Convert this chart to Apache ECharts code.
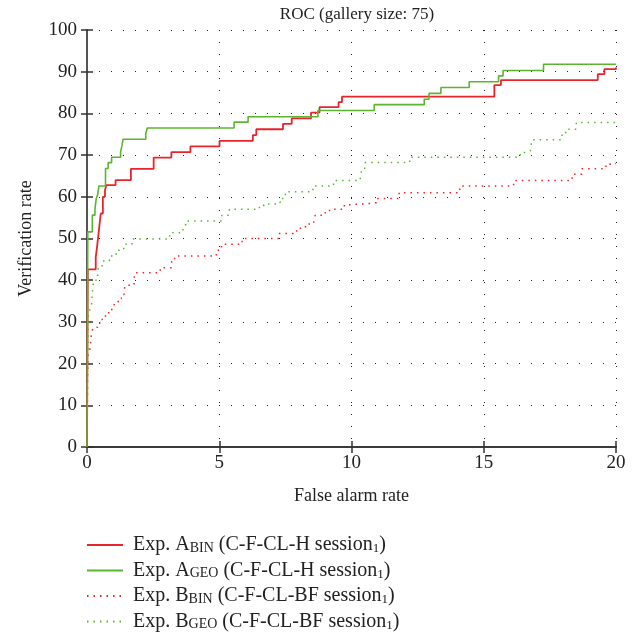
<!DOCTYPE html>
<html><head><meta charset="utf-8">
<script src="https://cdn.jsdelivr.net/npm/echarts@6/dist/echarts.min.js"></script>
<style>html,body{margin:0;padding:0;background:#fff}#c{width:643px;height:638px}</style>
</head><body><div id="c"></div>
<script>
const chartTitle = 'ROC (gallery size: 75)';
const xAxisName = 'False alarm rate';
const yAxisName = 'Verification rate';

// Exp. A_BIN (solid red) step points
const aBinX = [0, 0.03, 0.33, 0.38, 0.45, 0.52, 0.60, 0.68, 0.73, 1.08, 1.66, 2.52, 3.19, 3.91, 5.01, 6.27, 6.40, 7.41, 7.74, 8.47, 8.79, 9.51, 9.64, 15.40, 15.65, 19.31, 19.56, 20];
const aBinY = [0, 42.6, 45.5, 48.0, 52.0, 56.0, 60.0, 61.6, 62.8, 64.0, 66.7, 69.4, 70.7, 72.1, 73.4, 74.8, 76.2, 77.5, 78.8, 80.2, 81.5, 82.7, 84.0, 86.8, 88.0, 89.4, 90.6, 91.0];

// Exp. A_GEO (solid green)
const aGeoX = [0, 0.03, 0.2, 0.3, 0.35, 0.40, 0.45, 0.70, 0.80, 0.93, 1.27, 1.32, 1.36, 2.22, 2.28, 5.56, 6.09, 8.73, 10.86, 12.75, 12.93, 13.38, 14.45, 15.56, 15.73, 17.26, 20];
const aGeoY = [0, 51.6, 55.6, 57.0, 59.6, 60.4, 62.6, 66.8, 68.2, 69.5, 70.8, 72.2, 73.8, 75.1, 76.5, 77.9, 79.2, 80.7, 82.1, 83.4, 84.8, 86.2, 87.6, 89.0, 90.3, 91.8, 91.8];

// Exp. B_BIN (dotted red)
const bBinX = [0, 0.01, 0.02, 0.03, 0.10, 0.13, 0.15, 0.18, 0.24, 0.40, 0.48, 0.58, 0.74, 0.82, 1.00, 1.06, 1.18, 1.30, 1.40, 1.45, 1.78, 1.81, 2.77, 3.20, 3.31, 4.89, 5.00, 5.10, 5.82, 5.90, 7.23, 7.80, 8.07, 8.40, 8.57, 8.63, 9.00, 9.17, 9.73, 9.95, 10.67, 10.94, 11.80, 14.09, 16.13, 18.20, 18.40, 18.71, 19.60, 19.78, 20];
const bBinY = [0, 17.0, 19.2, 21.8, 23.2, 24.6, 26.2, 27.6, 28.7, 29.4, 30.6, 31.4, 31.9, 33.0, 33.6, 34.8, 35.6, 36.6, 37.6, 38.8, 40.2, 41.8, 43.0, 44.4, 45.8, 47.2, 48.0, 48.6, 49.3, 50.0, 51.2, 51.8, 52.8, 53.9, 54.2, 55.6, 56.2, 57.0, 58.1, 58.4, 58.6, 59.6, 61.0, 62.6, 63.9, 64.5, 65.4, 66.7, 67.3, 68.0, 68.0];

// Exp. B_GEO (dotted green)
const bGeoX = [0, 0.05, 0.10, 0.17, 0.20, 0.25, 0.40, 0.44, 0.57, 0.85, 1.10, 1.39, 1.70, 3.12, 3.24, 3.63, 3.68, 3.78, 5.10, 5.38, 6.52, 6.68, 7.30, 7.40, 7.50, 8.54, 9.32, 10.33, 10.40, 10.50, 12.20, 16.38, 16.57, 16.76, 16.82, 17.96, 18.10, 18.50, 20];
const bGeoY = [0, 31.6, 32.8, 34.0, 37.0, 40.0, 41.9, 43.2, 44.6, 45.8, 47.2, 48.6, 49.9, 50.6, 51.4, 52.2, 53.3, 54.2, 55.6, 57.0, 57.8, 58.3, 59.0, 60.2, 61.2, 62.6, 63.9, 65.2, 66.5, 68.2, 69.5, 70.6, 71.0, 71.4, 73.7, 75.2, 76.2, 77.8, 77.9];

const seriesNames = ['ABIN', 'AGEO', 'BBIN', 'BGEO'];
const legendLabels = {
  ABIN: ['Exp. A', 'BIN', ' (C-F-CL-H session', '1', ')'],
  AGEO: ['Exp. A', 'GEO', ' (C-F-CL-H session', '1', ')'],
  BBIN: ['Exp. B', 'BIN', ' (C-F-CL-BF session', '1', ')'],
  BGEO: ['Exp. B', 'GEO', ' (C-F-CL-BF session', '1', ')']
};

const RED = '#e8252b', GREEN = '#5cb531';
const FONT = '"Liberation Serif", "DejaVu Serif", serif';
const zip = (xs, ys) => xs.map((x, i) => [x, ys[i]]);

const chart = echarts.init(document.getElementById('c'), null, {renderer: 'canvas'});
const mk = (name, xs, ys, color, type, width) => ({
  name, type: 'line', step: 'end', data: zip(xs, ys), symbol: 'none',
  lineStyle: {color, width, type, cap: 'butt'}, itemStyle: {color},
  silent: true, animation: false, z: 5
});
chart.setOption({
  animation: false,
  backgroundColor: '#fff',
  title: {text: chartTitle, left: 352, top: 1, textAlign: 'center',
    textStyle: {fontFamily: FONT, fontSize: 17, fontWeight: 'normal', color: '#222'}},
  grid: {left: 87, right: 27, top: 30, bottom: 191, containLabel: false},
  xAxis: [{
    type: 'value', min: 0, max: 20, interval: 5,
    name: xAxisName, nameLocation: 'middle', nameGap: 40,
    nameTextStyle: {fontFamily: FONT, fontSize: 18, color: '#222'},
    axisLine: {show: true, lineStyle: {color: '#555', width: 2}},
    axisTick: {show: true, inside: true, length: 6, lineStyle: {color: '#333', width: 1.5}},
    axisLabel: {fontFamily: FONT, fontSize: 19, color: '#222', margin: 7},
    splitLine: {show: true, lineStyle: {color: '#222', width: 1, type: [1, 11]}}
  }, {
    type: 'value', min: 0, max: 20, interval: 5, position: 'top',
    axisLine: {show: true, lineStyle: {color: '#333', width: 1.5}},
    axisTick: {show: true, inside: true, length: 6, lineStyle: {color: '#333', width: 1.5}},
    axisLabel: {show: false}, splitLine: {show: false}
  }],
  yAxis: [{
    type: 'value', min: 0, max: 100, interval: 10,
    name: yAxisName, nameLocation: 'middle', nameGap: 52, nameRotate: 90,
    nameTextStyle: {fontFamily: FONT, fontSize: 18, color: '#222'},
    axisLine: {show: true, lineStyle: {color: '#222', width: 1.5}},
    axisTick: {show: true, inside: true, length: 6, lineStyle: {color: '#333', width: 1.5}},
    axisLabel: {fontFamily: FONT, fontSize: 19, color: '#222', margin: 10},
    splitLine: {show: true, lineStyle: {color: '#222', width: 1, type: [1, 11]}}
  }, {
    type: 'value', min: 0, max: 100, interval: 10, position: 'right',
    axisLine: {show: true, lineStyle: {color: '#555', width: 2}},
    axisTick: {show: true, inside: true, length: 6, lineStyle: {color: '#333', width: 1.5}},
    axisLabel: {show: false}, splitLine: {show: false}
  }],
  legend: {
    show: true,
    orient: 'vertical', left: 86, top: 535, padding: 0,
    itemWidth: 36, itemHeight: 14, itemGap: 5,
    itemStyle: {opacity: 0},
    data: seriesNames,
    textStyle: {fontFamily: FONT, fontSize: 20, color: '#222', padding: [0, 0, 0, 5],
      rich: {
        n: {fontFamily: FONT, fontSize: 20, color: '#222'},
        s: {fontFamily: FONT, fontSize: 14, color: '#222', padding: [6, 0, 0, 0]},
        t: {fontFamily: FONT, fontSize: 13, color: '#222', padding: [8, 0, 0, 0]}
      }},
    formatter: function (name) {
      const p = legendLabels[name];
      return '{n|' + p[0] + '}{s|' + p[1] + '}{n|' + p[2] + '}{t|' + p[3] + '}{n|' + p[4] + '}';
    }
  },
  series: [
    mk('ABIN', aBinX, aBinY, RED, 'solid', 1.8),
    mk('AGEO', aGeoX, aGeoY, GREEN, 'solid', 1.6),
    mk('BBIN', bBinX, bBinY, RED, [1.5, 5], 1.5),
    mk('BGEO', bGeoX, bGeoY, GREEN, [1.5, 5], 1.5)
  ]
});
</script></body></html>
